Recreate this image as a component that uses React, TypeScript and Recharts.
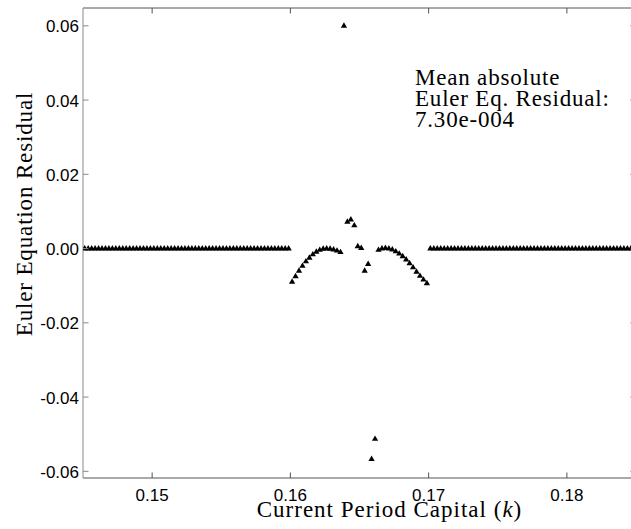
import { ScatterChart, Scatter, XAxis, YAxis, ReferenceLine, Symbols } from 'recharts'

// capital grid (k), step ~0.00025
const capital = [
  0.145125, 0.145375, 0.145625, 0.145875, 0.146125, 0.146375, 0.146625, 0.146875,
  0.147125, 0.147375, 0.147625, 0.147875, 0.148125, 0.148375, 0.148625, 0.148875,
  0.149125, 0.149375, 0.149625, 0.149875, 0.150125, 0.150375, 0.150625, 0.150875,
  0.151125, 0.151375, 0.151625, 0.151875, 0.152125, 0.152375, 0.152625, 0.152875,
  0.153125, 0.153375, 0.153625, 0.153875, 0.154125, 0.154375, 0.154625, 0.154875,
  0.155125, 0.155375, 0.155625, 0.155875, 0.156125, 0.156375, 0.156625, 0.156875,
  0.157125, 0.157375, 0.157625, 0.157875, 0.158125, 0.158375, 0.158625, 0.158875,
  0.159125, 0.159375, 0.159625, 0.159875,
  // left arc
  0.160125, 0.160375, 0.160625, 0.160875, 0.161125, 0.161375, 0.161625, 0.161875,
  0.162125, 0.162375, 0.162625, 0.162875, 0.163125, 0.163375, 0.163625,
  // middle scatter
  0.163875, 0.164125, 0.164375, 0.164625, 0.164875, 0.165125, 0.165375, 0.165625,
  0.165875, 0.166125,
  // right arc
  0.166375, 0.166625, 0.166875, 0.167125, 0.167375, 0.167625, 0.167875, 0.168125,
  0.168375, 0.168625, 0.168875, 0.169125, 0.169375, 0.169625, 0.169875,
  // right flat part
  0.170125, 0.170375, 0.170625, 0.170875, 0.171125, 0.171375, 0.171625, 0.171875,
  0.172125, 0.172375, 0.172625, 0.172875, 0.173125, 0.173375, 0.173625, 0.173875,
  0.174125, 0.174375, 0.174625, 0.174875, 0.175125, 0.175375, 0.175625, 0.175875,
  0.176125, 0.176375, 0.176625, 0.176875, 0.177125, 0.177375, 0.177625, 0.177875,
  0.178125, 0.178375, 0.178625, 0.178875, 0.179125, 0.179375, 0.179625, 0.179875,
  0.180125, 0.180375, 0.180625, 0.180875, 0.181125, 0.181375, 0.181625, 0.181875,
  0.182125, 0.182375, 0.182625, 0.182875, 0.183125, 0.183375, 0.183625, 0.183875,
  0.184125, 0.184375, 0.184625, 0.184875,
]

const residual = [
  0, 0, 0, 0, 0, 0, 0, 0, 0, 0, 0, 0, 0, 0, 0, 0, 0, 0, 0, 0,
  0, 0, 0, 0, 0, 0, 0, 0, 0, 0, 0, 0, 0, 0, 0, 0, 0, 0, 0, 0,
  0, 0, 0, 0, 0, 0, 0, 0, 0, 0, 0, 0, 0, 0, 0, 0, 0, 0, 0, 0,
  -0.009, -0.0075, -0.006, -0.0047, -0.0035, -0.0025, -0.0016, -0.0009,
  -0.0004, -0.0001, 0.0, -0.0001, -0.0003, -0.0006, -0.001,
  0.06, 0.0072, 0.0078, 0.0062, 0.0006, 0.0001, -0.006, -0.0042,
  -0.0567, -0.0513,
  -0.0004, 0.0, 0.0001, 0.0, -0.0003, -0.0008, -0.0014, -0.0021,
  -0.003, -0.004, -0.0051, -0.0063, -0.0074, -0.0084, -0.0094,
  0, 0, 0, 0, 0, 0, 0, 0, 0, 0, 0, 0, 0, 0, 0, 0, 0, 0, 0, 0,
  0, 0, 0, 0, 0, 0, 0, 0, 0, 0, 0, 0, 0, 0, 0, 0, 0, 0, 0, 0,
  0, 0, 0, 0, 0, 0, 0, 0, 0, 0, 0, 0, 0, 0, 0, 0, 0, 0, 0, 0,
]

const xTicks = [0.15, 0.16, 0.17, 0.18]
const yTicks = [-0.06, -0.04, -0.02, 0, 0.02, 0.04, 0.06]
const xDomain = [0.145, 0.185]
const yDomain = [-0.0618, 0.0648]
const noteLines = ['Mean absolute', 'Euler Eq. Residual:', '7.30e-004']

const data = capital.map((k, i) => ({ k, r: residual[i] }))

// plot box in page pixels
const PLOT = { left: 83, top: 8, right: 636, bottom: 478 }
const TICK = 5.5
const BOX = '#555'
const SANS = '"Liberation Sans", Arial, sans-serif'
const SERIF = '"Liberation Serif", "Times New Roman", serif'

function XTick({ x, payload }: { x?: number; payload?: { value: number } }) {
  if (x == null || !payload) return null
  return (
    <g>
      <line x1={x} x2={x} y1={PLOT.bottom} y2={PLOT.bottom - TICK} stroke={BOX} />
      <line x1={x} x2={x} y1={PLOT.top} y2={PLOT.top + TICK} stroke={BOX} />
      <text x={x} y={PLOT.bottom + 22.5} textAnchor="middle" fontFamily={SANS} fontSize={17} fill="#000">
        {payload.value.toFixed(2)}
      </text>
    </g>
  )
}

function YTick({ y, payload }: { y?: number; payload?: { value: number } }) {
  if (y == null || !payload) return null
  return (
    <g>
      <line x1={PLOT.left} x2={PLOT.left + TICK} y1={y} y2={y} stroke="#888" />
      <line x1={PLOT.right} x2={PLOT.right - TICK} y1={y} y2={y} stroke={BOX} />
      <text x={PLOT.left - 4} y={y + 6.5} textAnchor="end" fontFamily={SANS} fontSize={17} fill="#000">
        {payload.value.toFixed(2)}
      </text>
    </g>
  )
}

function Marker({ cx, cy }: { cx?: number; cy?: number }) {
  if (cx == null || cy == null) return null
  return <Symbols cx={cx} cy={cy} type="triangle" size={17} fill="#000" />
}

export default function App() {
  return (
    <div style={{ position: 'absolute', left: 0, top: 0, width: 631, height: 529, overflow: 'hidden', background: '#fff' }}>
      <ScatterChart
        width={640}
        height={529}
        margin={{ top: PLOT.top, right: 640 - PLOT.right, bottom: 529 - PLOT.bottom - 30, left: PLOT.left - 60 }}
      >
        <XAxis
          dataKey="k"
          type="number"
          domain={xDomain}
          ticks={xTicks}
          allowDataOverflow
          height={30}
          tickLine={false}
          axisLine={{ stroke: BOX }}
          tick={(p: any) => <XTick {...p} />}
        />
        <YAxis
          dataKey="r"
          type="number"
          domain={yDomain}
          ticks={yTicks}
          allowDataOverflow
          width={60}
          tickLine={false}
          axisLine={{ stroke: '#888' }}
          tick={(p: any) => <YTick {...p} />}
        />
        <ReferenceLine y={yDomain[1]} stroke={BOX} ifOverflow="visible" />
        <ReferenceLine x={xDomain[1]} stroke={BOX} ifOverflow="visible" />
        <Scatter data={data} shape={(p: any) => <Marker {...p} />} fill="#000" isAnimationActive={false} />
      </ScatterChart>
      <svg width={631} height={529} style={{ position: 'absolute', left: 0, top: 0, pointerEvents: 'none' }}>
        <text
          x={32}
          y={214}
          transform="rotate(-90 32 214)"
          textAnchor="middle"
          fontFamily={SERIF}
          fontSize={23}
          letterSpacing={0.85}
          fill="#000"
        >
          Euler Equation Residual
        </text>
        <text x={389.5} y={516.5} textAnchor="middle" fontFamily={SERIF} fontSize={23} letterSpacing={1} fill="#000">
          Current Period Capital (<tspan fontStyle="italic">k</tspan>)
        </text>
        {noteLines.map((line, i) => (
          <text key={line} x={415} y={85 + i * 20.8} fontFamily={SERIF} fontSize={23} letterSpacing={0.8} fill="#000">
            {line}
          </text>
        ))}
      </svg>
    </div>
  )
}
